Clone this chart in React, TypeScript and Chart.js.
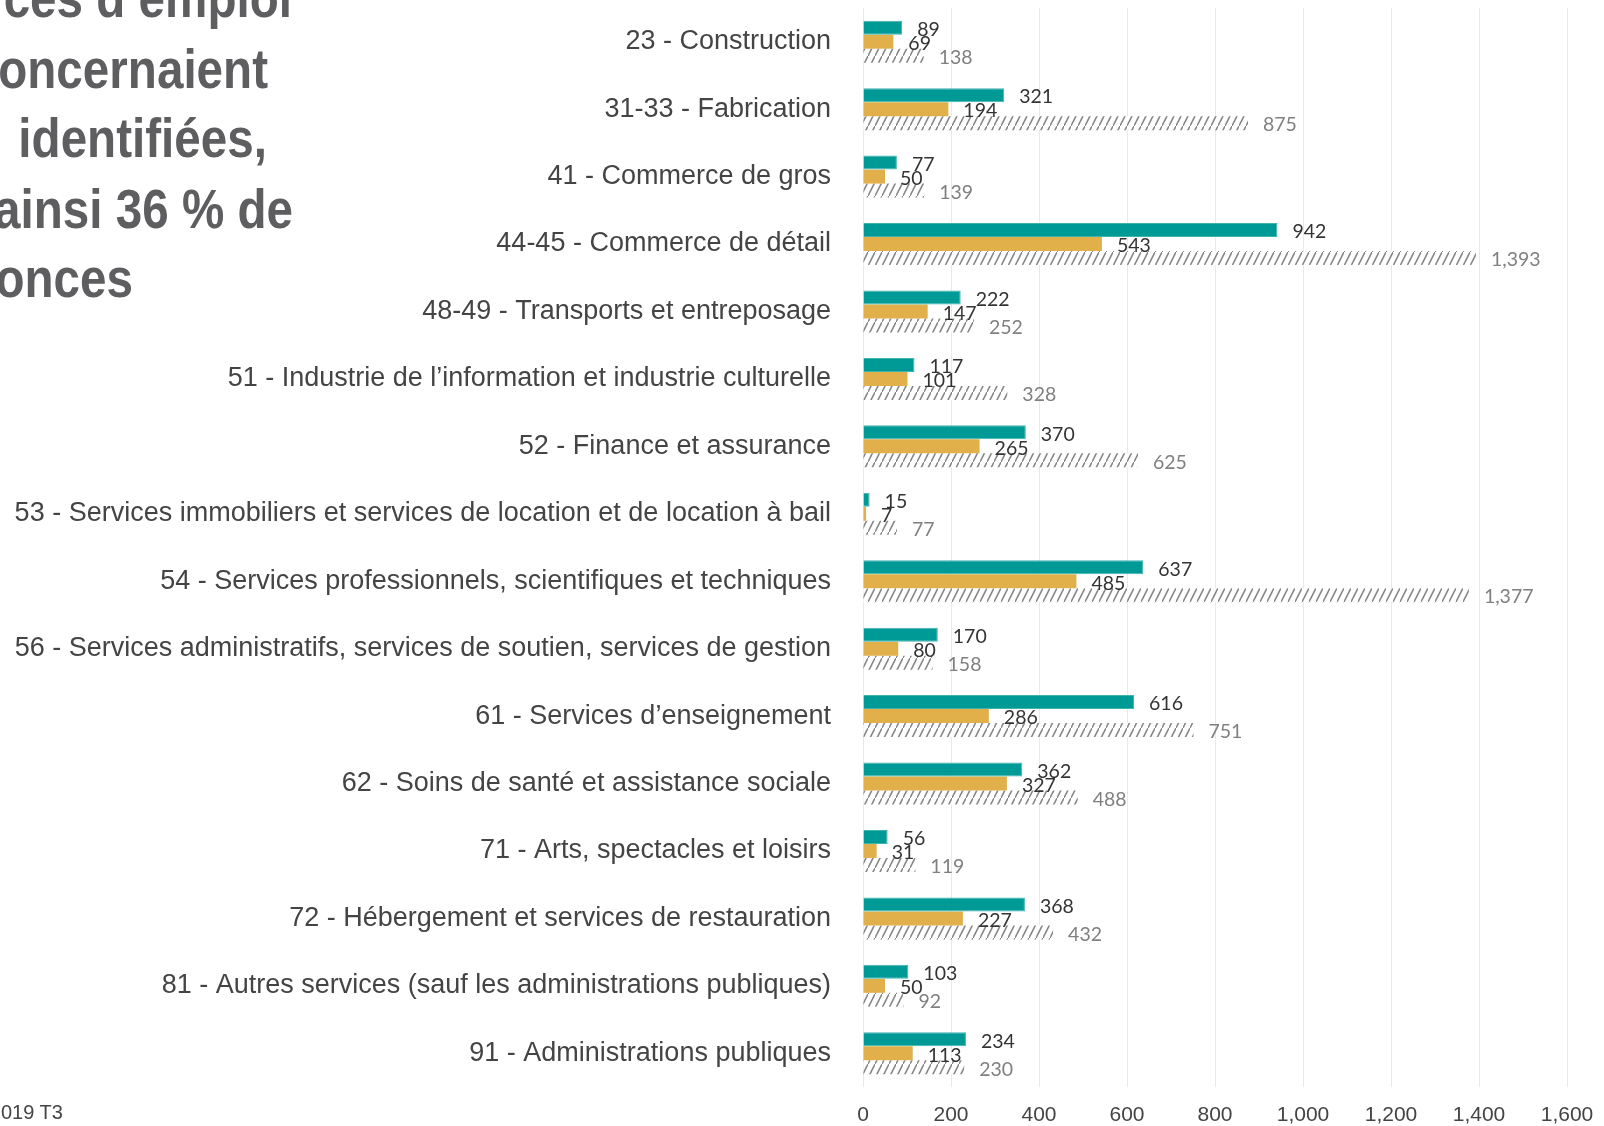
import React, { useEffect, useRef } from "react";
import { Chart, registerables } from "chart.js";

Chart.register(...registerables);

const categories: string[] = [
  "23 - Construction",
  "31-33 - Fabrication",
  "41 - Commerce de gros",
  "44-45 - Commerce de détail",
  "48-49 - Transports et entreposage",
  "51 - Industrie de l’information et industrie culturelle",
  "52 - Finance et assurance",
  "53 - Services immobiliers et services de location et de location à bail",
  "54 - Services professionnels, scientifiques et techniques",
  "56 - Services administratifs, services de soutien, services de gestion",
  "61 - Services d’enseignement",
  "62 - Soins de santé et assistance sociale",
  "71 - Arts, spectacles et loisirs",
  "72 - Hébergement et services de restauration",
  "81 - Autres services (sauf les administrations publiques)",
  "91 - Administrations publiques",
];

const seriesTeal: number[] = [89, 321, 77, 942, 222, 117, 370, 15, 637, 170, 616, 362, 56, 368, 103, 234];
const seriesGold: number[] = [69, 194, 50, 543, 147, 101, 265, 7, 485, 80, 286, 327, 31, 227, 50, 113];
const seriesHatched: number[] = [138, 875, 139, 1393, 252, 328, 625, 77, 1377, 158, 751, 488, 119, 432, 92, 230];

const xTicksMax = 1600;
const xTicksStep = 200;

const titleLines: string[] = ["ces d’emploi", "oncernaient", " identifiées,", "ainsi 36 % de", "onces"];
const footnote = "019 T3";

function makeHatch(): CanvasPattern | string {
  const c = document.createElement("canvas");
  c.width = 7;
  c.height = 14;
  const g = c.getContext("2d");
  if (!g) return "#999";
  g.fillStyle = "#ffffff";
  g.fillRect(0, 0, 7, 14);
  g.strokeStyle = "#858585";
  g.lineWidth = 1.5;
  g.beginPath();
  g.moveTo(-1, 16);
  g.lineTo(8, -2);
  g.stroke();
  const p = g.createPattern(c, "repeat");
  return p || "#999";
}

const fmt = (v: number) => v.toLocaleString("en-US");

const labelPlugin = {
  id: "barValueLabels",
  afterDatasetsDraw(chart: any) {
    const ctx = chart.ctx;
    ctx.save();
    ctx.font = "19.5px Lato, 'Open Sans', sans-serif";
    ctx.textAlign = "left";
    ctx.textBaseline = "middle";
    chart.data.datasets.forEach((ds: any, di: number) => {
      const meta = chart.getDatasetMeta(di);
      ctx.fillStyle = di === 2 ? "#808080" : "#333333";
      meta.data.forEach((el: any, i: number) => {
        const v = ds.data[i];
        ctx.fillText(fmt(v), el.x + 15, el.y + 2);
      });
    });
    ctx.restore();
  },
};

export default function App() {
  const ref = useRef<HTMLCanvasElement | null>(null);

  useEffect(() => {
    if (!ref.current) return;
    const hatch = makeHatch();
    const chart = new Chart(ref.current, {
      type: "bar",
      data: {
        labels: categories,
        datasets: [
          {
            label: "Série 1",
            data: seriesTeal,
            backgroundColor: "#009a96",
            borderColor: "#3fb3af",
            borderWidth: { top: 1, bottom: 1, right: 1, left: 0 } as any,
            categoryPercentage: 0.622,
            barPercentage: 1.0,
          },
          {
            label: "Série 2",
            data: seriesGold,
            backgroundColor: "#e1b04b",
            borderWidth: 0,
            categoryPercentage: 0.622,
            barPercentage: 1.0,
          },
          {
            label: "Série 3",
            data: seriesHatched,
            backgroundColor: hatch as any,
            borderWidth: 0,
            categoryPercentage: 0.622,
            barPercentage: 1.0,
          },
        ],
      },
      options: {
        indexAxis: "y",
        responsive: false,
        animation: false,
        devicePixelRatio: 1,
        layout: { padding: { top: 8, right: 37, bottom: 0, left: 0 } },
        plugins: {
          legend: { display: false },
          tooltip: { enabled: false },
          title: { display: false },
        },
        scales: {
          x: {
            min: 0,
            max: xTicksMax,
            grid: { color: "#e9e9e9", lineWidth: 1, drawTicks: false },
            border: { display: false },
            ticks: {
              stepSize: xTicksStep,
              padding: 16,
              color: "#444444",
              font: { family: "'Liberation Sans', Arial, sans-serif", size: 21 },
              callback: (v: any) => fmt(Number(v)),
            },
            afterFit: (s: any) => {
              s.height = 39;
              s.paddingLeft = 0;
              s.paddingRight = 0;
            },
          },
          y: {
            grid: { display: false, drawTicks: false },
            border: { display: false },
            ticks: {
              padding: 32,
              color: "#444444",
              font: { family: "'Liberation Sans', Arial, sans-serif", size: 27 },
            },
            afterFit: (s: any) => {
              s.width = 863;
              s.paddingTop = 0;
              s.paddingBottom = 0;
            },
          },
        },
      },
      plugins: [labelPlugin],
    });
    return () => chart.destroy();
  }, []);

  const titleRights = [292, 268, 267, 293, 133];
  const titleBaselines = [17, 88, 157, 228, 297];

  return (
    <div style={{ position: "absolute", left: 0, top: 0, width: 1604, height: 1126, overflow: "hidden", background: "#ffffff" }}>
      <canvas ref={ref} width={1604} height={1126} style={{ position: "absolute", left: 0, top: 0, width: 1604, height: 1126 }} />
      {titleLines.map((t, i) => (
        <div
          key={i}
          style={{
            position: "absolute",
            left: titleRights[i] - 600,
            width: 600,
            top: titleBaselines[i] - 51.4,
            textAlign: "right",
            fontFamily: "'Liberation Sans', Arial, sans-serif",
            fontWeight: 700,
            fontSize: 56,
            lineHeight: "64px",
            color: "#5e5e61",
            whiteSpace: "pre",
            transform: "scaleX(0.85)",
            transformOrigin: "right center",
          }}
        >
          {t}
        </div>
      ))}
      <div
        style={{
          position: "absolute",
          left: 1,
          top: 1100,
          fontFamily: "'Liberation Sans', Arial, sans-serif",
          fontSize: 20,
          lineHeight: "24px",
          color: "#444444",
          whiteSpace: "pre",
        }}
      >
        {footnote}
      </div>
    </div>
  );
}
